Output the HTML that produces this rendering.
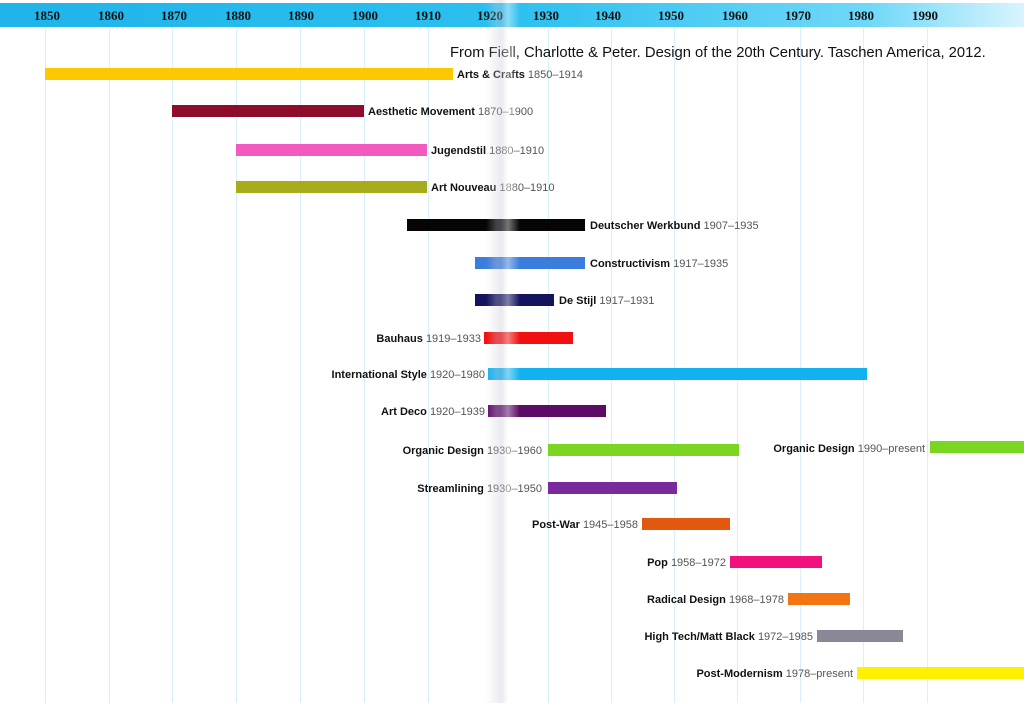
<!DOCTYPE html>
<html><head><meta charset="utf-8"><style>
body{margin:0;width:1024px;height:703px;background:#fff;position:relative;overflow:hidden;font-family:"Liberation Sans",sans-serif}
.top{position:absolute;left:0;top:3px;width:1024px;height:24px;background:linear-gradient(90deg,#1fb4ea 0%,#2cc0f0 50%,#6fd8f8 85%,#d8f4fd 100%)}
.yr{position:absolute;top:8px;font:bold 13px "Liberation Serif",serif;color:#111;transform:translateX(-50%)}
.g{position:absolute;top:27px;height:676px;width:1px;background:#d8f1f9}
.b{position:absolute;height:12px}
.l{position:absolute;font-size:11px;white-space:nowrap;color:#111}
.l b{font-weight:bold}
.l span{color:#555;font-weight:normal}
.r{transform:translateX(-100%)}
.fold{position:absolute;left:486px;top:0;width:34px;height:703px;background:linear-gradient(90deg,rgba(255,255,255,0) 0%,rgba(210,210,222,.3) 30%,rgba(195,195,210,.35) 45%,rgba(255,255,255,.45) 65%,rgba(255,255,255,0) 100%)}
</style></head><body>
<div class="top"></div>
<div class="yr" style="left:47px">1850</div><div class="yr" style="left:111px">1860</div><div class="yr" style="left:174px">1870</div><div class="yr" style="left:238px">1880</div><div class="yr" style="left:301px">1890</div><div class="yr" style="left:365px">1900</div><div class="yr" style="left:428px">1910</div><div class="yr" style="left:490px">1920</div><div class="yr" style="left:546px">1930</div><div class="yr" style="left:608px">1940</div><div class="yr" style="left:671px">1950</div><div class="yr" style="left:735px">1960</div><div class="yr" style="left:798px">1970</div><div class="yr" style="left:861px">1980</div><div class="yr" style="left:925px">1990</div>
<div class="g" style="left:45px"></div><div class="g" style="left:109px"></div><div class="g" style="left:172px"></div><div class="g" style="left:236px"></div><div class="g" style="left:300px"></div><div class="g" style="left:364px"></div><div class="g" style="left:428px"></div><div class="g" style="left:548px"></div><div class="g" style="left:611px"></div><div class="g" style="left:674px"></div><div class="g" style="left:737px"></div><div class="g" style="left:800px"></div><div class="g" style="left:863px"></div><div class="g" style="left:927px"></div>
<div style="position:absolute;left:450px;top:45px;font-size:14.8px;color:#111">From Fiell, Charlotte &amp; Peter. Design of the 20th Century. Taschen America, 2012.</div>

<div class="b" style="left:45px;top:68px;width:408px;background:#fcc800"></div>
<div class="l" style="left:457px;top:69px"><b>Arts &amp; Crafts</b> <span>1850–1914</span></div>
<div class="b" style="left:172px;top:105px;width:192px;background:#8e0c2c"></div>
<div class="l" style="left:368px;top:106px"><b>Aesthetic Movement</b> <span>1870–1900</span></div>
<div class="b" style="left:236px;top:144px;width:191px;background:#f35ac0"></div>
<div class="l" style="left:431px;top:145px"><b>Jugendstil</b> <span>1880–1910</span></div>
<div class="b" style="left:236px;top:181px;width:191px;background:#a8ac1c"></div>
<div class="l" style="left:431px;top:182px"><b>Art Nouveau</b> <span>1880–1910</span></div>
<div class="b" style="left:407px;top:219px;width:178px;background:#050505"></div>
<div class="l" style="left:590px;top:220px"><b>Deutscher Werkbund</b> <span>1907–1935</span></div>
<div class="b" style="left:475px;top:257px;width:110px;background:#3a7ddc"></div>
<div class="l" style="left:590px;top:258px"><b>Constructivism</b> <span>1917–1935</span></div>
<div class="b" style="left:475px;top:294px;width:79px;background:#14145e"></div>
<div class="l" style="left:559px;top:295px"><b>De Stijl</b> <span>1917–1931</span></div>
<div class="b" style="left:484px;top:332px;width:89px;background:#f01010"></div>
<div class="l r" style="left:481px;top:333px"><b>Bauhaus</b> <span>1919–1933</span></div>
<div class="b" style="left:488px;top:368px;width:379px;background:#12b2f0"></div>
<div class="l r" style="left:485px;top:369px"><b>International Style</b> <span>1920–1980</span></div>
<div class="b" style="left:488px;top:405px;width:118px;background:#5c0c64"></div>
<div class="l r" style="left:485px;top:406px"><b>Art Deco</b> <span>1920–1939</span></div>
<div class="b" style="left:548px;top:444px;width:191px;background:#7ad620"></div>
<div class="l r" style="left:542px;top:445px"><b>Organic Design</b> <span>1930–1960</span></div>
<div class="b" style="left:930px;top:441px;width:94px;background:#7ad620"></div>
<div class="l r" style="left:925px;top:443px"><b>Organic Design</b> <span>1990–present</span></div>
<div class="b" style="left:548px;top:482px;width:129px;background:#7a2a9c"></div>
<div class="l r" style="left:542px;top:483px"><b>Streamlining</b> <span>1930–1950</span></div>
<div class="b" style="left:642px;top:518px;width:88px;background:#e2580e"></div>
<div class="l r" style="left:638px;top:519px"><b>Post-War</b> <span>1945–1958</span></div>
<div class="b" style="left:730px;top:556px;width:92px;background:#f2107c"></div>
<div class="l r" style="left:726px;top:557px"><b>Pop</b> <span>1958–1972</span></div>
<div class="b" style="left:788px;top:593px;width:62px;background:#f27412"></div>
<div class="l r" style="left:784px;top:594px"><b>Radical Design</b> <span>1968–1978</span></div>
<div class="b" style="left:817px;top:630px;width:86px;background:#8a8896"></div>
<div class="l r" style="left:813px;top:631px"><b>High Tech/Matt Black</b> <span>1972–1985</span></div>
<div class="b" style="left:857px;top:667px;width:167px;background:#fff000"></div>
<div class="l r" style="left:853px;top:668px"><b>Post-Modernism</b> <span>1978–present</span></div>
<div class="fold"></div>
</body></html>
